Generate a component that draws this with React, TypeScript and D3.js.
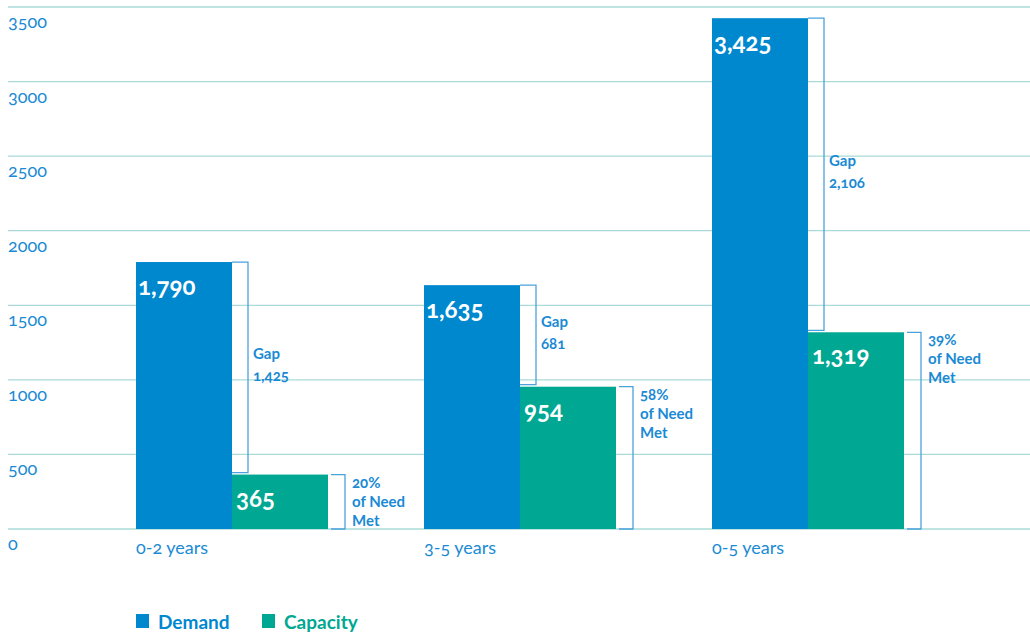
import { scaleBand, scaleLinear, select } from "d3";
import { useEffect, useRef } from "react";

const groups = ["0-2 years", "3-5 years", "0-5 years"];
const demand = [1790, 1635, 3425];
const capacity = [365, 954, 1319];
const valueLabels = {
  demand: ["1,790", "1,635", "3,425"],
  capacity: ["365", "954", "1,319"],
};
const gapLabels = ["1,425", "681", "2,106"];
const metLabels = ["20%", "58%", "39%"];
const yTicks = [0, 500, 1000, 1500, 2000, 2500, 3000, 3500];

const W = 1030;
const H = 637;
const BLUE = "#0088cf";
const GREEN = "#00a792";
const TEXT = "#1a8ad4";
const GRID = "#a9dcd8";
const BRACKET = "#4aa2dc";
const FONT = "Lato, 'Open Sans', sans-serif";

const draw = (el: SVGSVGElement) => {
  const svg = select(el);
  svg.selectAll("*").remove();

  const y = scaleLinear().domain([0, 3500]).range([529, 7]);
  const x = scaleBand<string>().domain(groups).range([136, 904]).paddingInner(1 / 3).paddingOuter(0);
  const half = x.bandwidth() / 2;

  // grid + y labels
  const grid = svg.append("g");
  grid
    .selectAll("line")
    .data(yTicks)
    .enter()
    .append("line")
    .attr("x1", 8)
    .attr("x2", W)
    .attr("y1", (d) => y(d))
    .attr("y2", (d) => y(d))
    .attr("stroke", GRID)
    .attr("stroke-width", 1.3);
  grid
    .selectAll("text")
    .data(yTicks)
    .enter()
    .append("text")
    .attr("x", 8)
    .attr("y", (d) => y(d) + 21)
    .attr("fill", TEXT)
    .attr("font-size", 18)
    .style("font-feature-settings", "'onum'")
    .text((d) => String(d));

  // bars
  const g = svg.append("g");
  groups.forEach((grp, i) => {
    const x0 = x(grp)!;
    g.append("rect")
      .attr("x", x0)
      .attr("y", y(demand[i]))
      .attr("width", half)
      .attr("height", y(0) - y(demand[i]))
      .attr("fill", BLUE);
    g.append("rect")
      .attr("x", x0 + half)
      .attr("y", y(capacity[i]))
      .attr("width", half)
      .attr("height", y(0) - y(capacity[i]))
      .attr("fill", GREEN);

    g.append("text")
      .attr("x", x0 + 2)
      .attr("y", y(demand[i]) + 33)
      .attr("fill", "#fff")
      .attr("font-size", 24)
      .attr("font-weight", 700)
      .style("font-feature-settings", "'onum'")
      .text(valueLabels.demand[i]);
    g.append("text")
      .attr("x", x0 + half + 4)
      .attr("y", y(capacity[i]) + 32)
      .attr("fill", "#fff")
      .attr("font-size", 24)
      .attr("font-weight", 700)
      .style("font-feature-settings", "'onum'")
      .text(valueLabels.capacity[i]);

    // gap bracket
    const bx = x0 + half + 16;
    const top = y(demand[i]);
    const bot = y(capacity[i]) - 2;
    g.append("path")
      .attr("d", `M${x0 + half},${top}H${bx}V${bot}H${x0 + half}`)
      .attr("fill", "none")
      .attr("stroke", BRACKET)
      .attr("stroke-width", 1.3);
    const gmid = (top + bot) / 2;
    g.append("text")
      .attr("x", bx + 5)
      .attr("y", gmid - 8)
      .attr("fill", TEXT)
      .attr("font-size", 15)
      .attr("font-weight", 700)
      .text("Gap");
    g.append("text")
      .attr("x", bx + 5)
      .attr("y", gmid + 14)
      .attr("fill", TEXT)
      .attr("font-size", 15)
      .attr("font-weight", 700)
      .style("font-feature-settings", "'onum'")
      .text(gapLabels[i]);

    // need met bracket
    const cx = x0 + 2 * half + 17;
    const ctop = y(capacity[i]);
    g.append("path")
      .attr("d", `M${x0 + 2 * half + 3},${ctop}H${cx}V${y(0)}H${x0 + 2 * half + 3}`)
      .attr("fill", "none")
      .attr("stroke", BRACKET)
      .attr("stroke-width", 1.3);
    [metLabels[i], "of Need", "Met"].forEach((t, k) => {
      g.append("text")
        .attr("x", cx + 7)
        .attr("y", ctop + 13 + k * 19)
        .attr("fill", TEXT)
        .attr("font-size", 15)
        .attr("font-weight", 700)
        .style("font-feature-settings", "'onum'")
        .text(t);
    });

    // x label
    g.append("text")
      .attr("x", x0)
      .attr("y", 554)
      .attr("fill", TEXT)
      .attr("font-size", 18)
      .style("font-feature-settings", "'onum'")
      .text(grp);
  });

  // legend
  const legend = [
    { label: "Demand", color: BLUE, x: 136 },
    { label: "Capacity", color: GREEN, x: 262 },
  ];
  const lg = svg.append("g");
  legend.forEach((l) => {
    lg.append("rect").attr("x", l.x).attr("y", 614).attr("width", 13).attr("height", 14).attr("fill", l.color);
    lg.append("text")
      .attr("x", l.x + 22)
      .attr("y", 629)
      .attr("fill", l.color)
      .attr("font-size", 19)
      .attr("font-weight", 700)
      .text(l.label);
  });
};

export default function App() {
  const ref = useRef<SVGSVGElement>(null);
  useEffect(() => {
    if (!ref.current) return;
    draw(ref.current);
  }, []);
  return (
    <svg
      ref={ref}
      width={W}
      height={H}
      style={{ position: "absolute", left: 0, top: 0, fontFamily: FONT, background: "#fff" }}
    />
  );
}
